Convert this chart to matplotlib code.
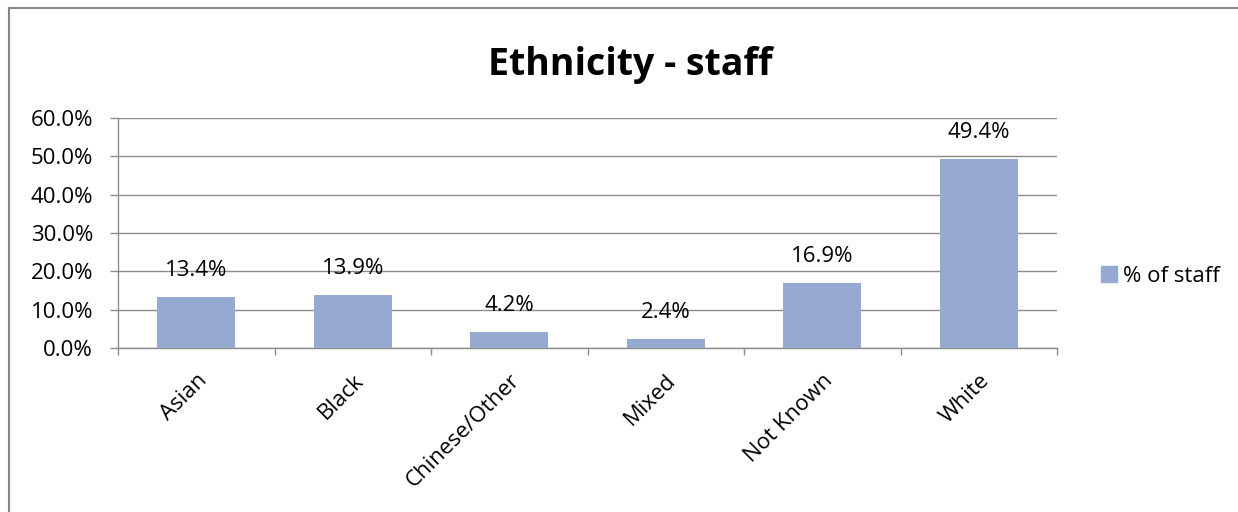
import numpy as np
import matplotlib.pyplot as plt
from matplotlib import rcParams
from matplotlib.lines import Line2D
from matplotlib.ticker import FuncFormatter, FixedLocator

rcParams['font.family'] = ['Open Sans', 'DejaVu Sans']

# data
categories = ['Asian', 'Black', 'Chinese/Other', 'Mixed', 'Not Known', 'White']
staff_pct = [13.4, 13.9, 4.2, 2.4, 16.9, 49.4]
y_ticks = [0, 10, 20, 30, 40, 50, 60]

bar_color = '#95A9D1'
grid_color = '#8C8C8C'
fs = 16

fig = plt.figure(figsize=(12.38, 5.12), dpi=100)
ax = fig.add_axes([118 / 1238, 1 - 348 / 512, 939 / 1238, 230 / 512])

x = np.arange(len(categories))
bars = ax.bar(x, staff_pct, width=0.5, color=bar_color, zorder=3, label='% of staff')

# value labels above the bars
for xi, v in zip(x, staff_pct):
    ax.annotate(f'{v:.1f}%', (xi, v), xytext=(0, 19), textcoords='offset points',
                ha='center', va='center', fontsize=fs)

ax.set_xlim(-0.5, len(categories) - 0.5)
ax.set_ylim(0, 60)
ax.set_yticks(y_ticks)
ax.yaxis.set_major_formatter(FuncFormatter(lambda v, p: f'{v:.1f}%'))
ax.tick_params(axis='y', labelsize=fs, length=6, width=1, color=grid_color, pad=12)
ax.grid(axis='y', color=grid_color, linewidth=1, zorder=0)

# category labels at centres, tick marks at boundaries (Excel style)
ax.set_xticks(x)
ax.set_xticklabels(categories, rotation=45, ha='right', va='top',
                   rotation_mode='anchor', fontsize=fs)
ax.tick_params(axis='x', which='major', length=0, pad=16)
ax.xaxis.set_minor_locator(FixedLocator(np.arange(len(categories) + 1) - 0.5))
ax.tick_params(axis='x', which='minor', length=5, width=1, color=grid_color)

for s in ['top', 'right']:
    ax.spines[s].set_visible(False)
for s in ['left', 'bottom']:
    ax.spines[s].set_color(grid_color)
    ax.spines[s].set_linewidth(1)

fig.text(630 / 1238, 1 - 65 / 512, 'Ethnicity - staff', ha='center', va='center',
         fontsize=27, fontweight='bold')

handle = Line2D([], [], marker='s', linestyle='none', markersize=11,
                markerfacecolor=bar_color, markeredgecolor=bar_color)
fig.legend([handle], ['% of staff'], loc='center left',
           bbox_to_anchor=(1076 / 1238, 1 - 276 / 512), frameon=False,
           fontsize=fs, handletextpad=0.0, handlelength=1.2)

# outer chart border (top and left visible)
fig.add_artist(Line2D([9 / 1238, 9 / 1238], [0, 1 - 8 / 512], transform=fig.transFigure,
                      color='#868686', linewidth=1.5))
fig.add_artist(Line2D([9 / 1238, 1], [1 - 8 / 512, 1 - 8 / 512], transform=fig.transFigure,
                      color='#868686', linewidth=1.5))

fig.savefig('out.png', dpi=100)
